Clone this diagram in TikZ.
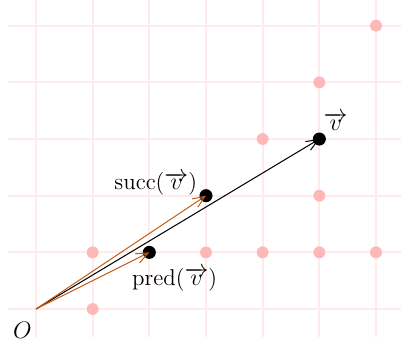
\documentclass[tikz,border=0pt]{standalone}
\usetikzlibrary{arrows.meta}
\begin{document}
\begin{tikzpicture}[x=1cm,y=1cm,
  font=\fontsize{11.5}{14}\selectfont,
  gridline/.style={red!8,line width=0.9pt},
  pinkdot/.style={circle,fill=red!28,inner sep=0pt,minimum size=0.21cm},
  blackdot/.style={circle,fill=black,inner sep=0pt,minimum size=0.23cm},
  tipstyle/.style={-{Straight Barb[length=6pt,width=5pt]}},
  vecarrow/.style={tipstyle,draw=black,line width=0.5pt},
  orarrow/.style={tipstyle,draw={rgb,255:red,190;green,90;blue,20},line width=0.5pt}]
\useasboundingbox (-0.635,-0.67) rectangle (6.441,5.453);
\begin{scope}
\clip (-0.635,-0.67) rectangle (6.441,5.453);
\foreach \x in {0,...,6} \draw[gridline] (\x,-0.5) -- (\x,5.6);
\foreach \y in {0,...,5} \draw[gridline] (-0.5,\y) -- (6.6,\y);
\end{scope}
\foreach \p [count=\i] in {(1,0),(1,1),(3,1),(4,1),(5,1),(6,1),(5,2),(4,3),(5,4),(6,5)}
  \node[pinkdot] (p\i) at \p {};
\coordinate (O) at (0,0);
\node[blackdot] (v) at (5,3) {};
\node[blackdot] (s) at (3,2) {};
\node[blackdot] (pr) at (2,1) {};
\draw[vecarrow] (O) -- (v.center);
\draw[orarrow] (O) -- (s.center);
\draw[orarrow] (O) -- (pr.center);
\node[anchor=south west,inner sep=2pt] (lv) at (5.0,3.08) {$\overrightarrow{v}$};
\node[anchor=south east,inner sep=2pt] (ls) at (2.92,1.93) {succ($\overrightarrow{v}$)};
\node[anchor=north west,inner sep=2pt] (lp) at (1.62,0.8) {pred($\overrightarrow{v}$)};
\node[anchor=north east,inner sep=2pt] (lO) at (0,-0.15) {$O$};
\end{tikzpicture}
\end{document}
